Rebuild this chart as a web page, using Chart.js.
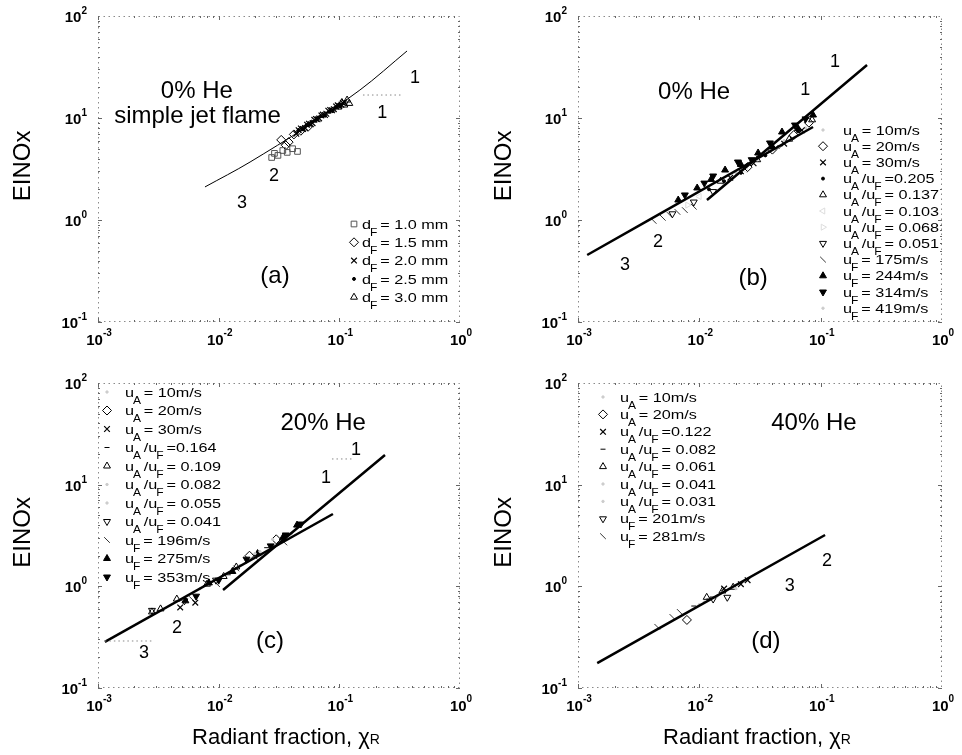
<!DOCTYPE html>
<html><head><meta charset="utf-8">
<script src="https://cdn.jsdelivr.net/npm/chart.js@4.4.1/dist/chart.umd.min.js"></script>
<style>
html,body{margin:0;padding:0;background:#fff;}
#wrap{position:relative;width:962px;height:755px;overflow:hidden;background:#fff;}
canvas{position:absolute;}
</style></head><body><div id="wrap">
<canvas id="ca" width="481" height="370" style="left:0;top:0"></canvas>
<canvas id="cb" width="481" height="370" style="left:481px;top:0"></canvas>
<canvas id="cc" width="481" height="385" style="left:0;top:370px"></canvas>
<canvas id="cd" width="481" height="385" style="left:481px;top:370px"></canvas>
</div>
<script>
// ---------------- DATA ----------------
const xTickExps = [-3, -2, -1, 0];
const yTickExps = [-1, 0, 1, 2];

// Panel (a): 0% He, simple jet flame
const aLabels = ['d_F = 1.0 mm', 'd_F = 1.5 mm', 'd_F = 2.0 mm', 'd_F = 2.5 mm', 'd_F = 3.0 mm'];
const aX = [
  [0.0275, 0.029, 0.031, 0.034, 0.037, 0.041, 0.045],
  [0.033, 0.036, 0.038, 0.042, 0.048, 0.055],
  [0.044, 0.046, 0.048, 0.050, 0.052, 0.054, 0.056, 0.058, 0.060, 0.062, 0.064, 0.066, 0.068, 0.071, 0.073, 0.076, 0.078, 0.081, 0.084, 0.087, 0.090, 0.094, 0.097, 0.100, 0.104, 0.107, 0.110],
  [0.046, 0.050, 0.053, 0.055, 0.059, 0.063, 0.067, 0.070, 0.076, 0.082, 0.088, 0.092, 0.095, 0.102],
  [0.098, 0.105, 0.110, 0.116, 0.121]
];
const aY = [
  [4.1, 4.5, 4.3, 4.8, 4.6, 5.0, 4.7],
  [6.1, 5.4, 5.8, 6.9, 7.5, 8.2],
  [7.0, 7.6, 7.9, 7.8, 8.0, 8.6, 8.8, 8.7, 8.9, 9.6, 9.8, 9.7, 9.9, 10.6, 10.8, 10.7, 11.0, 11.8, 12.0, 11.9, 12.2, 13.0, 13.3, 13.1, 13.5, 14.0, 14.3],
  [7.6, 7.8, 8.4, 8.6, 9.2, 9.4, 10.1, 10.4, 10.6, 11.5, 11.7, 12.6, 12.9, 13.1],
  [12.8, 14.2, 13.4, 15.0, 13.9]
];
const aFitX = [0.0077, 0.0182, 0.148, 0.364];
const aFitY = [2.11, 3.70, 18.8, 45.4];
const aGuideX = [0.157, 0.337];
const aGuideY = [16.8, 16.8];

// Panel (b): 0% He
const bLabels = ['u_A = 10m/s', 'u_A = 20m/s', 'u_A = 30m/s', 'u_A /u_F =0.205', 'u_A /u_F = 0.137',
  'u_A /u_F = 0.103', 'u_A /u_F = 0.068', 'u_A /u_F = 0.051', 'u_F = 175m/s', 'u_F = 244m/s',
  'u_F = 314m/s', 'u_F = 419m/s'];
const bX = [
  [0.020, 0.030, 0.045],
  [0.025, 0.040, 0.060, 0.080],
  [0.018, 0.022, 0.028, 0.050, 0.070],
  [0.012, 0.016, 0.022, 0.035, 0.045, 0.065],
  [0.015, 0.030, 0.055, 0.085],
  [0.010, 0.024],
  [0.008, 0.016],
  [0.006, 0.009, 0.013],
  [0.0042, 0.0050, 0.0057, 0.0066, 0.0076, 0.0090],
  [0.0067, 0.0096, 0.0125, 0.0163, 0.022, 0.0305, 0.040, 0.048, 0.065, 0.0865],
  [0.0076, 0.011, 0.013, 0.0208, 0.027, 0.0382, 0.0614, 0.075],
  [0.050, 0.075]
];
const bY = [
  [2.9, 3.9, 5.2],
  [3.3, 4.9, 6.8, 9.0],
  [2.6, 3.0, 3.6, 5.6, 7.6],
  [2.0, 2.4, 2.9, 4.3, 5.2, 7.4],
  [2.4, 3.9, 6.2, 9.6],
  [1.7, 3.1],
  [1.4, 2.3],
  [1.15, 1.5, 1.9],
  [0.98, 1.05, 1.12, 1.2, 1.25, 1.35],
  [1.57, 2.06, 2.5, 3.09, 3.5, 4.54, 5.2, 7.29, 7.9, 10.7],
  [1.76, 2.3, 2.7, 3.7, 3.9, 5.69, 8.53, 9.8],
  [6.0, 8.0]
];
const bLine23X = [0.00119, 0.0865];
const bLine23Y = [0.454, 8.16];
const bLine1X = [0.01156, 0.241];
const bLine1Y = [1.57, 33.1];

// Panel (c): 20% He
const cLabels = ['u_A = 10m/s', 'u_A = 20m/s', 'u_A = 30m/s', 'u_A /u_F =0.164', 'u_A /u_F = 0.109',
  'u_A /u_F = 0.082', 'u_A /u_F = 0.055', 'u_A /u_F = 0.041', 'u_F = 196m/s', 'u_F = 275m/s', 'u_F = 353m/s'];
const cX = [
  [0.015, 0.028],
  [0.018, 0.030],
  [0.0048, 0.0064],
  [0.012, 0.025],
  [0.0028, 0.0033, 0.0045, 0.008, 0.011, 0.014],
  [0.020, 0.040],
  [0.007, 0.022],
  [0.0028, 0.0052, 0.0095],
  [0.006, 0.0097, 0.014, 0.020, 0.035],
  [0.0053, 0.0083, 0.013, 0.021, 0.034, 0.0446],
  [0.0065, 0.010, 0.017, 0.027, 0.036, 0.048]
];
const cY = [
  [1.6, 2.9],
  [2.0, 2.9],
  [0.62, 0.69],
  [1.3, 2.4],
  [0.56, 0.60, 0.75, 1.05, 1.25, 1.55],
  [2.1, 3.3],
  [0.95, 2.2],
  [0.58, 0.72, 1.15],
  [0.75, 1.05, 1.5, 1.95, 2.7],
  [0.72, 1.08, 1.4, 2.1, 3.0, 4.0],
  [0.8, 1.15, 1.85, 2.5, 3.2, 4.1]
];
const cLine23X = [0.00114, 0.0885];
const cLine23Y = [0.284, 5.15];
const cLine1X = [0.01087, 0.239];
const cLine1Y = [0.92, 19.6];
const cGuide1X = [0.0869, 0.130];
const cGuide1Y = [17.9, 17.9];
const cGuide2X = [0.00114, 0.00286];
const cGuide2Y = [0.29, 0.29];

// Panel (d): 40% He
const dLabels = ['u_A = 10m/s', 'u_A = 20m/s', 'u_A /u_F =0.122', 'u_A /u_F = 0.082', 'u_A /u_F = 0.061',
  'u_A /u_F = 0.041', 'u_A /u_F = 0.031', 'u_F = 201m/s', 'u_F = 281m/s'];
const dX = [
  [0.011, 0.020],
  [0.0079],
  [0.016, 0.022, 0.025],
  [0.009, 0.012],
  [0.0115, 0.0155, 0.019],
  [0.010],
  [0.014],
  [0.013, 0.017],
  [0.0045, 0.0060, 0.0069]
];
const dY = [
  [0.7, 0.95],
  [0.467],
  [0.95, 1.05, 1.15],
  [0.64, 0.75],
  [0.78, 0.90, 0.98],
  [0.66],
  [0.80],
  [0.75, 0.78],
  [0.40, 0.50, 0.56]
];
const dLineX = [0.00144, 0.1087];
const dLineY = [0.176, 3.2];

// ---------------- STYLES ----------------
const FONT = "'Liberation Sans', Arial, Helvetica, sans-serif";
const ST = {
  sq:    {ps: 'rect', r: 4, rot: 0, fill: 'rgba(0,0,0,0)', stroke: '#555', bw: 1},
  dia:   {ps: 'rectRot', r: 4.5, rot: 0, fill: 'rgba(0,0,0,0)', stroke: '#000', bw: 1},
  x:     {ps: 'crossRot', r: 4, rot: 0, fill: 'rgba(0,0,0,0)', stroke: '#000', bw: 1.2},
  dot:   {ps: 'circle', r: 1.5, rot: 0, fill: '#000', stroke: '#000', bw: 1},
  dash:  {ps: 'line', r: 2.5, rot: 0, fill: '#000', stroke: '#000', bw: 1},
  tri:   {ps: 'triangle', r: 4, rot: 0, fill: 'rgba(0,0,0,0)', stroke: '#000', bw: 1},
  triD:  {ps: 'triangle', r: 4, rot: 180, fill: 'rgba(0,0,0,0)', stroke: '#000', bw: 1},
  triF:  {ps: 'triangle', r: 4, rot: 0, fill: '#000', stroke: '#000', bw: 1},
  triFD: {ps: 'triangle', r: 4, rot: 180, fill: '#000', stroke: '#000', bw: 1},
  bs:    {ps: 'line', r: 4, rot: 45, fill: '#000', stroke: '#333', bw: 1},
  faint: {ps: 'circle', r: 1.2, rot: 0, fill: '#ccc', stroke: '#ccc', bw: 1},
  faintL:{ps: 'triangle', r: 3.5, rot: 270, fill: 'rgba(0,0,0,0)', stroke: '#ddd', bw: 1},
  faintR:{ps: 'triangle', r: 3.5, rot: 90, fill: 'rgba(0,0,0,0)', stroke: '#ddd', bw: 1}
};

function pts(xs, ys) { return xs.map((v, i) => ({x: v, y: ys[i]})); }

function drawMarker(ctx, st, x, y) {
  ctx.save();
  ctx.strokeStyle = st.stroke; ctx.fillStyle = st.fill; ctx.lineWidth = st.bw;
  Chart.helpers.drawPoint(ctx, {pointStyle: st.ps, radius: st.r, rotation: st.rot, borderWidth: st.bw}, x, y);
  ctx.restore();
}

function sText(ctx, s, x, y, font, sx, align) {
  ctx.save();
  ctx.font = font;
  ctx.translate(x, y);
  ctx.scale(sx, 1);
  ctx.textAlign = align || 'left';
  ctx.textBaseline = 'alphabetic';
  ctx.fillText(s, 0, 0);
  ctx.restore();
}

const LEG_FS = 13.5, LEG_SX = 1.2, SUB_FS = 10, SUB_DY = 7;
function drawRich(ctx, s, x, y) {
  let cx = x, i = 0;
  while (i < s.length) {
    if (s[i] === '_' && i + 1 < s.length) {
      const ch = s[i + 1];
      ctx.font = SUB_FS + 'px ' + FONT;
      const w = ctx.measureText(ch).width * LEG_SX;
      sText(ctx, ch, cx - 1, y + SUB_DY, SUB_FS + 'px ' + FONT, LEG_SX);
      cx += w * 0.65; i += 2; continue;
    }
    let j = s.indexOf('_', i); if (j < 0) j = s.length;
    const run = s.slice(i, j);
    ctx.font = LEG_FS + 'px ' + FONT;
    const w = ctx.measureText(run).width * LEG_SX;
    sText(ctx, run, cx, y, LEG_FS + 'px ' + FONT, LEG_SX);
    cx += w; i = j;
  }
}

function decoPlugin(P) {
  return {
    id: 'deco',
    afterDraw(chart) {
      const ctx = chart.ctx, a = chart.chartArea, xs = chart.scales.x, ys = chart.scales.y;
      const W = a.right - a.left, Hh = a.bottom - a.top;
      ctx.save();
      // frame (dotted, as in the scanned figure)
      ctx.strokeStyle = '#8a8a8a'; ctx.lineWidth = 1; ctx.setLineDash([1.5, 3.5]);
      ctx.strokeRect(a.left + 0.5, a.top + 0.5, W - 1, Hh - 1);
      ctx.setLineDash([]);
      // minor & major tick marks
      ctx.strokeStyle = '#666';
      ctx.beginPath();
      for (let d = -3; d < 0; d++) for (let m = 1; m <= 9; m++) {
        const px = Math.round(xs.getPixelForValue(m * Math.pow(10, d))) + 0.5;
        const len = m === 1 ? 4 : 2;
        ctx.moveTo(px, a.bottom); ctx.lineTo(px, a.bottom - len);
        ctx.moveTo(px, a.top); ctx.lineTo(px, a.top + len);
      }
      for (let d = -1; d < 2; d++) for (let m = 1; m <= 9; m++) {
        const py = Math.round(ys.getPixelForValue(m * Math.pow(10, d))) + 0.5;
        const len = m === 1 ? 4 : 2;
        ctx.moveTo(a.left, py); ctx.lineTo(a.left + len, py);
        ctx.moveTo(a.right, py); ctx.lineTo(a.right - len, py);
      }
      ctx.stroke();
      ctx.fillStyle = '#000';
      // y tick labels
      const bigF = 'bold 15px ' + FONT, supF = 'bold 10px ' + FONT;
      yTickExps.forEach(e => {
        const py = ys.getPixelForValue(Math.pow(10, e));
        ctx.font = bigF; const wb = ctx.measureText('10').width;
        ctx.font = supF; const we = ctx.measureText(String(e)).width;
        const x0 = a.left - 11 - wb - we;
        sText(ctx, '10', x0, py + 6, bigF, 1);
        sText(ctx, String(e), x0 + wb, py - 2, supF, 1);
      });
      // x tick labels
      xTickExps.forEach(e => {
        const px = xs.getPixelForValue(Math.pow(10, e));
        ctx.font = bigF; const wb = ctx.measureText('10').width;
        ctx.font = supF; const we = ctx.measureText(String(e)).width;
        const x0 = px - (wb + we) / 2 + 1;
        sText(ctx, '10', x0, a.bottom + 23, bigF, 1);
        sText(ctx, String(e), x0 + wb, a.bottom + 14, supF, 1);
      });
      // y title
      ctx.save();
      ctx.translate(23, a.top + 0.49 * Hh);
      ctx.rotate(-Math.PI / 2);
      ctx.font = '24px ' + FONT; ctx.textAlign = 'center'; ctx.textBaseline = 'middle';
      ctx.fillText('EINOx', 0, 0);
      ctx.restore();
      // x title
      if (P.xTitle) {
        const f1 = '22px ' + FONT, f2 = '14px ' + FONT;
        const t1 = 'Radiant fraction, \u03C7';
        ctx.font = f1; const w1 = ctx.measureText(t1).width;
        ctx.font = f2; const w2 = ctx.measureText('R').width;
        const x0 = a.left + P.xTitle - (w1 + w2) / 2;
        sText(ctx, t1, x0, a.bottom + 56, f1, 1);
        sText(ctx, 'R', x0 + w1, a.bottom + 56, f2, 1);
      }
      // annotations
      P.notes.forEach(n => {
        sText(ctx, n.t, a.left + n.fx * W, a.top + n.fy * Hh, n.fs + 'px ' + FONT, 1, 'center');
      });
      // legend
      P.labels.forEach((lab, k) => {
        const cy = a.top + P.leg.y0 + k * P.leg.dy;
        drawMarker(ctx, P.styles[k], a.left + P.leg.mx, cy);
        ctx.fillStyle = '#000';
        drawRich(ctx, lab, a.left + P.leg.tx, cy + 4.6);
      });
      ctx.restore();
    }
  };
}

function makeChart(id, P) {
  const datasets = [];
  P.guides.forEach(g => datasets.push({type: 'line', data: pts(g.x, g.y), borderColor: '#888', borderWidth: 1,
    borderDash: [1.5, 3], pointRadius: 0, fill: false, tension: 0}));
  P.lines.forEach(L => datasets.push({type: 'line', data: pts(L.x, L.y), borderColor: '#000', borderWidth: L.w,
    pointRadius: 0, fill: false, tension: L.t || 0, cubicInterpolationMode: 'monotone'}));
  P.xs.forEach((xs, k) => {
    const st = P.styles[k];
    datasets.push({type: 'scatter', data: pts(xs, P.ys[k]), pointStyle: st.ps, pointRadius: st.r,
      pointRotation: st.rot, pointBorderColor: st.stroke, pointBackgroundColor: st.fill,
      pointBorderWidth: st.bw, showLine: false});
  });
  return new Chart(document.getElementById(id), {
    type: 'scatter',
    data: {datasets},
    options: {
      responsive: false, animation: false, devicePixelRatio: 1, events: [],
      layout: {padding: P.pad},
      plugins: {legend: {display: false}, tooltip: {enabled: false}},
      scales: {
        x: {type: 'logarithmic', min: 0.001, max: 1, display: false},
        y: {type: 'logarithmic', min: 0.1, max: 100, display: false}
      }
    },
    plugins: [decoPlugin(P)]
  });
}

makeChart('ca', {
  pad: {left: 98, right: 21, top: 16, bottom: 48},
  xs: aX, ys: aY, labels: aLabels,
  styles: [ST.sq, ST.dia, ST.x, ST.dot, ST.tri],
  lines: [{x: aFitX, y: aFitY, w: 1, t: 0.4}],
  guides: [{x: aGuideX, y: aGuideY}],
  leg: {mx: 256, tx: 264, y0: 208, dy: 18.3},
  xTitle: 0,
  notes: [
    {t: '0% He', fx: 0.273, fy: 0.268, fs: 24},
    {t: 'simple jet flame', fx: 0.275, fy: 0.350, fs: 24},
    {t: '1', fx: 0.876, fy: 0.219, fs: 18},
    {t: '1', fx: 0.785, fy: 0.333, fs: 18},
    {t: '2', fx: 0.486, fy: 0.539, fs: 18},
    {t: '3', fx: 0.398, fy: 0.627, fs: 18},
    {t: '(a)', fx: 0.489, fy: 0.873, fs: 24}
  ]
});

makeChart('cb', {
  pad: {left: 97, right: 20, top: 16, bottom: 48},
  xs: bX, ys: bY, labels: bLabels,
  styles: [ST.faint, ST.dia, ST.x, ST.dot, ST.tri, ST.faintL, ST.faintR, ST.triD, ST.bs, ST.triF, ST.triFD, ST.faint],
  lines: [{x: bLine23X, y: bLine23Y, w: 2.5}, {x: bLine1X, y: bLine1Y, w: 2.5}],
  guides: [],
  leg: {mx: 245, tx: 265, y0: 114, dy: 16.2},
  xTitle: 0,
  notes: [
    {t: '0% He', fx: 0.319, fy: 0.271, fs: 24},
    {t: '1', fx: 0.706, fy: 0.166, fs: 18},
    {t: '1', fx: 0.624, fy: 0.258, fs: 18},
    {t: '2', fx: 0.220, fy: 0.755, fs: 18},
    {t: '3', fx: 0.129, fy: 0.830, fs: 18},
    {t: '(b)', fx: 0.481, fy: 0.879, fs: 24}
  ]
});

makeChart('cc', {
  pad: {left: 98, right: 21, top: 13, bottom: 67},
  xs: cX, ys: cY, labels: cLabels,
  styles: [ST.faint, ST.dia, ST.x, ST.dash, ST.tri, ST.faint, ST.faint, ST.triD, ST.bs, ST.triF, ST.triFD],
  lines: [{x: cLine23X, y: cLine23Y, w: 2.5}, {x: cLine1X, y: cLine1Y, w: 2.5}],
  guides: [{x: cGuide1X, y: cGuide1Y}, {x: cGuide2X, y: cGuide2Y}],
  leg: {mx: 9, tx: 27, y0: 9, dy: 18.5},
  xTitle: 188,
  notes: [
    {t: '20% He', fx: 0.622, fy: 0.154, fs: 24},
    {t: '1', fx: 0.713, fy: 0.236, fs: 18},
    {t: '1', fx: 0.630, fy: 0.328, fs: 18},
    {t: '2', fx: 0.218, fy: 0.820, fs: 18},
    {t: '3', fx: 0.127, fy: 0.902, fs: 18},
    {t: '(c)', fx: 0.475, fy: 0.869, fs: 24}
  ]
});

makeChart('cd', {
  pad: {left: 97, right: 20, top: 13, bottom: 67},
  xs: dX, ys: dY, labels: dLabels,
  styles: [ST.faint, ST.dia, ST.x, ST.dash, ST.tri, ST.faint, ST.faint, ST.triD, ST.bs],
  lines: [{x: dLineX, y: dLineY, w: 2.5}],
  guides: [],
  leg: {mx: 25, tx: 42, y0: 14, dy: 17.4},
  xTitle: 179,
  notes: [
    {t: '40% He', fx: 0.648, fy: 0.154, fs: 24},
    {t: '2', fx: 0.684, fy: 0.600, fs: 18},
    {t: '3', fx: 0.582, fy: 0.682, fs: 18},
    {t: '(d)', fx: 0.516, fy: 0.869, fs: 24}
  ]
});
</script>
</body></html>
